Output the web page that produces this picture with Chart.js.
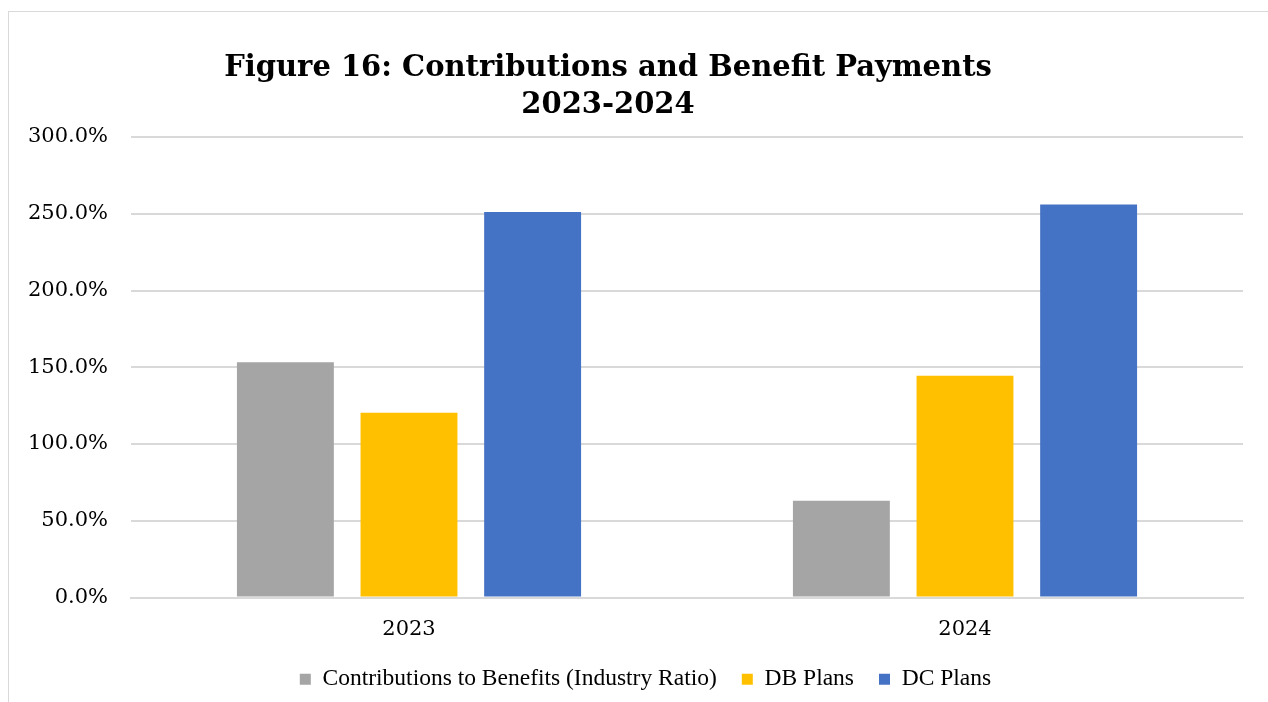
<!DOCTYPE html>
<html lang="en">

<head>
    <meta charset="UTF-8">
    <meta name="viewport" content="width=device-width, initial-scale=1.0">
    <title>Contributions and Benefit Payments</title>
    <style>
        html, body {
            margin: 0;
            padding: 0;
            background: #ffffff;
            overflow: hidden;
            height: 702px;
        }

        .frame {
            position: absolute;
            left: 8px;
            top: 11px;
            width: 1300px;
            height: 720px;
            border: 1px solid #d9d9d9;
        }

        .chart-container {
            position: absolute;
            left: 0;
            top: 0;
            width: 1268px;
            height: 702px;
        }
    </style>
</head>

<body>

    <div class="frame"></div>
    <div class="chart-container">
        <canvas id="contrib-benefits"></canvas>
    </div>

    <script src="https://cdn.jsdelivr.net/npm/chart.js"></script>
    <script>
        const titleLines = ['Figure 16: Contributions and Benefit Payments', '2023-2024'];
        const years = ['2023', '2024'];
        const seriesNames = ['Contributions to Benefits (Industry Ratio)', 'DB Plans', 'DC Plans'];
        const ratioValues = [153.2, 63.1];
        const dbValues = [120.4, 144.5];
        const dcValues = [251.1, 256.1];
        const yMin = 0;
        const yMax = 300;
        const yStep = 50;

        const colors = ['#A5A5A5', '#FFC000', '#4472C4'];

        // two line title, sits a bit left of the plot centre
        const titlePlugin = {
            id: 'figureTitle',
            afterDraw(chart) {
                const ctx = chart.ctx;
                ctx.save();
                ctx.fillStyle = '#000000';
                ctx.textAlign = 'center';
                ctx.textBaseline = 'alphabetic';
                ctx.font = 'bold 29px "DejaVu Serif"';
                ctx.fillText(titleLines[0], 608, 76);
                ctx.fillText(titleLines[1], 608, 113);
                ctx.restore();
            }
        };

        // legend row is centred under the plot area rather than the whole canvas
        const legendShift = {
            id: 'legendShift',
            afterLayout(chart) {
                chart.legend.left += 48;
            }
        };

        document.addEventListener("DOMContentLoaded", function () {
            const ctx = document.getElementById('contrib-benefits');

            new Chart(ctx, {
                type: 'bar',
                data: {
                    labels: years,
                    datasets: [
                        { label: seriesNames[0], data: ratioValues, backgroundColor: colors[0] },
                        { label: seriesNames[1], data: dbValues, backgroundColor: colors[1] },
                        { label: seriesNames[2], data: dcValues, backgroundColor: colors[2] }
                    ]
                },
                options: {
                    responsive: true,
                    maintainAspectRatio: false,
                    animation: false,
                    datasets: {
                        bar: {
                            categoryPercentage: 0.667,
                            barPercentage: 0.784
                        }
                    },
                    layout: {
                        padding: { top: 137, right: 25, bottom: 1, left: 0 }
                    },
                    scales: {
                        x: {
                            afterFit(scale) {
                                scale.height = 45;
                            },
                            grid: { display: false, drawTicks: false },
                            border: { color: '#d9d9d9', width: 2 },
                            ticks: {
                                color: '#000000',
                                padding: 19,
                                font: { family: 'DejaVu Serif', size: 21 }
                            }
                        },
                        y: {
                            min: yMin,
                            max: yMax,
                            afterFit(scale) {
                                scale.width = 131;
                            },
                            grid: {
                                color: '#d9d9d9',
                                lineWidth: 2,
                                drawTicks: false
                            },
                            border: { display: false },
                            ticks: {
                                stepSize: yStep,
                                color: '#000000',
                                padding: 23,
                                font: { family: 'DejaVu Serif', size: 21 },
                                callback: (value) => value.toFixed(1) + '%'
                            }
                        }
                    },
                    plugins: {
                        title: { display: false },
                        tooltip: { enabled: false },
                        legend: {
                            position: 'bottom',
                            labels: {
                                color: '#000000',
                                boxWidth: 11,
                                boxHeight: 11,
                                padding: 25,
                                font: { family: 'Liberation Serif', size: 23.5, lineHeight: 1 }
                            }
                        }
                    }
                },
                plugins: [titlePlugin, legendShift]
            });
        });
    </script>

</body>

</html>
